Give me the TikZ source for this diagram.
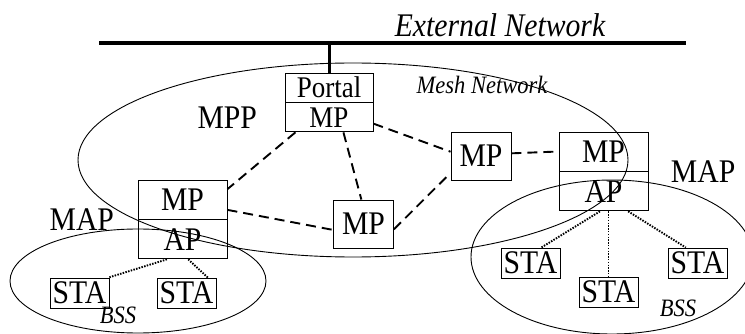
\documentclass[tikz,border=0pt]{standalone}
\usepackage{fontspec}
\setmainfont{Liberation Serif}[FakeStretch=0.9]
\usetikzlibrary{positioning}

\begin{document}
\begin{tikzpicture}[x=1pt,y=-1pt,
  box/.style={draw,line width=0.9pt,inner sep=0pt,font=\fontsize{33}{33}\selectfont},
  mpbox/.style={box,minimum width=60pt,minimum height=48pt},
  halfbox/.style={box,minimum width=89pt,minimum height=39pt},
  portbox/.style={box,minimum width=88pt,minimum height=29pt,font=\fontsize{30}{30}\selectfont},
  stabox/.style={box,minimum width=59pt,minimum height=30pt},
  lbl/.style={font=\fontsize{33}{33}\selectfont},
  note/.style={font=\fontsize{25}{25}\selectfont\itshape},
  mesh/.style={line width=1.9pt,dash pattern=on 10pt off 6pt},
  wlan/.style={line width=1.9pt,dash pattern=on 1.5pt off 1.3pt},
  bus/.style={line width=3.5pt},
  area/.style={line width=0.9pt}
]
\useasboundingbox (0,0) rectangle (745,334);
\clip (0,0) rectangle (745,334);

% external network
\coordinate (extL) at (99,43);
\coordinate (extR) at (686,43);
\draw[bus] (extL) -- (extR);
\node[font=\fontsize{33}{33}\selectfont\itshape] (extlbl) at (500,25) {External Network};

% mesh points
\node[portbox] (portal) at (329,87.5) {Portal};
\node[portbox,below=0pt of portal] (pmp) {MP};
\node[halfbox] (lmp) at (182.5,199.5) {MP};
\node[halfbox,below=0pt of lmp] (lap) {AP};
\node[halfbox] (rmp) at (603.5,151.5) {MP};
\node[halfbox,below=0pt of rmp] (rap) {AP};
\node[mpbox] (mpa) at (481,156) {MP};
\node[mpbox] (mpb) at (363.5,224) {MP};

% stations
\node[stabox] (lsta1) at (79.5,293) {STA};
\node[stabox] (lsta2) at (186.5,293) {STA};
\node[stabox] (rsta1) at (530.5,263) {STA};
\node[stabox] (rsta2) at (608.5,292) {STA};
\node[stabox] (rsta3) at (697.5,263) {STA};

% labels
\node[lbl,left=24pt of pmp] (mpplbl) {MPP};
\node[lbl,left=20pt of lmp.south west] (lmaplbl) {MAP};
\node[lbl,right=19pt of rmp.south east] (rmaplbl) {MAP};
\node[note] (meshlbl) at (482,85) {Mesh Network};
\node[note] (lbsslbl) at (118,315) {BSS};
\node[note] (rbsslbl) at (678,308) {BSS};

% areas
\draw[area] (353,160) ellipse [x radius=275, y radius=97];
\draw[area] (138,281) ellipse [x radius=128, y radius=52];
\draw[area] (612,257) ellipse [x radius=141, y radius=77];

% links
\draw[line width=3pt] (portal.north) -- (portal.north |- extL);
\draw[mesh] (pmp.204) -- (lmp.13);
\draw[mesh] (pmp.-46) -- (mpb.95);
\draw[mesh] (pmp.-8) -- (mpa.172);
\draw[mesh] (lmp.-13) -- (mpb.191);
\draw[mesh] (mpb.-10) -- (mpa.209);
\draw[mesh] (mpa.5) -- (rmp.west);
\draw[wlan] (lap.-128) -- (lsta1.28);
\draw[wlan] (lap.-74) -- (lsta2.36);
\draw[wlan] (rap.-100) -- (rsta1.55);
\draw[wlan] (rsta2.north |- rap.south) -- (rsta2.north);
\draw[wlan] (rap.-39) -- (rsta3.127);
\end{tikzpicture}
\end{document}
